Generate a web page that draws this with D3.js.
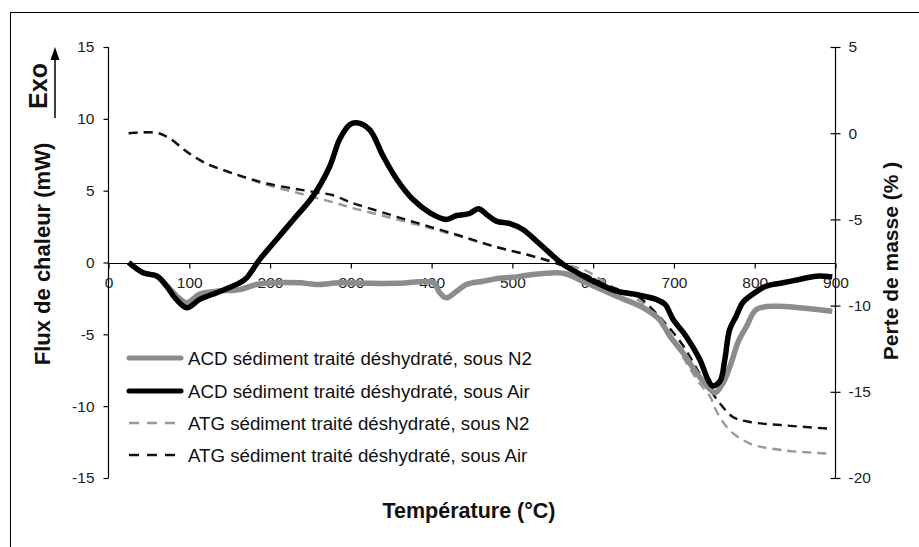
<!DOCTYPE html>
<html><head><meta charset="utf-8">
<script src="https://cdn.jsdelivr.net/npm/d3@7"></script>
<style>body{margin:0;background:#fff;} svg{display:block;font-family:"Liberation Sans",Arial,sans-serif;}</style>
</head><body>
<svg id="c" width="919" height="547"></svg>
<script>
// ---- data ----
const xTicks = [0,100,200,300,400,500,600,700,800,900];
const leftTicks = [15,10,5,0,-5,-10,-15];
const rightTicks = [5,0,-5,-10,-15,-20];

const acdAirT = [25,43,60,72,84,97,113,134,163,171,187,208,229,253,274,286,299,307,323,340,357,377,398,418,431,447,458,468,480,497,513,530,546,563,580,600,629,653,678,689,699,715,732,742,748,757,763,769,777,785,794,814,835,855,876,896];
const acdAirV = [0,-0.72,-0.95,-1.65,-2.57,-3.15,-2.57,-2.1,-1.4,-1.07,0.2,1.6,3.0,4.6,6.7,8.56,9.6,9.72,9.26,7.4,5.78,4.38,3.46,3.0,3.27,3.41,3.74,3.34,2.88,2.71,2.3,1.48,0.67,-0.14,-0.7,-1.3,-2.0,-2.23,-2.57,-2.92,-3.97,-5.13,-6.75,-8.14,-8.6,-8.26,-6.75,-4.66,-3.74,-2.8,-2.35,-1.65,-1.41,-1.18,-0.95,-1.0];

const acdN2T = [25,43,60,72,84,97,113,134,163,183,204,237,258,286,320,360,402,410,418,431,443,464,484,505,525,555,567,587,629,662,682,695,711,728,745,751,761,771,779,790,802,827,855,896];
const acdN2V = [0,-0.72,-0.95,-1.6,-2.3,-2.8,-2.2,-2.0,-1.88,-1.53,-1.41,-1.41,-1.53,-1.41,-1.45,-1.45,-1.41,-2.1,-2.46,-2.0,-1.53,-1.3,-1.1,-1.0,-0.84,-0.72,-0.8,-1.3,-2.35,-3.15,-3.97,-5.13,-6.28,-7.68,-8.84,-9.07,-8.37,-6.98,-5.59,-4.43,-3.27,-3.04,-3.15,-3.4];

const atgAirT = [25,60,76,97,121,146,171,196,229,253,278,299,324,357,398,439,480,521,555,590,620,653,686,711,730,745,757,773,794,835,890];
const atgAirW = [0,0.02,-0.31,-1.08,-1.76,-2.2,-2.59,-2.92,-3.21,-3.4,-3.6,-4.0,-4.37,-4.85,-5.43,-6.0,-6.6,-7.08,-7.56,-8.2,-8.9,-9.4,-10.85,-12.3,-13.8,-14.9,-15.68,-16.46,-16.75,-16.94,-17.13];

const atgN2T = [25,60,76,97,121,146,171,196,229,253,278,299,324,357,398,439,480,521,555,590,620,653,682,711,730,745,752,769,794,835,890];
const atgN2W = [0,0.02,-0.31,-1.08,-1.76,-2.2,-2.6,-3.0,-3.4,-3.7,-4.0,-4.3,-4.6,-5.0,-5.5,-6.05,-6.6,-7.08,-7.5,-7.95,-8.8,-9.6,-10.65,-12.97,-14.4,-15.3,-16.07,-17.23,-18.0,-18.39,-18.58];

const legendLabels = [
  "ACD sédiment traité déshydraté, sous N2",
  "ACD sédiment traité déshydraté, sous Air",
  "ATG sédiment traité déshydraté, sous N2",
  "ATG sédiment traité déshydraté, sous Air"
];

// ---- layout ----
const svg = d3.select("#c");
const L = 108.5, R = 835.5, T = 47, B = 478;
const x = d3.scaleLinear().domain([0,900]).range([L,R]);
const yL = d3.scaleLinear().domain([-15,15]).range([B,T]);
const yR = d3.scaleLinear().domain([-20,5]).range([B,T]);
const fmt = d => String(d);

// outer frame
svg.append("rect").attr("x",10.5).attr("y",12.5).attr("width",1000).attr("height",1000)
  .attr("fill","none").attr("stroke","#000").attr("stroke-width",1);

// left axis
const gL = svg.append("g").attr("transform",`translate(${L},0)`)
  .call(d3.axisLeft(yL).tickValues(leftTicks).tickSize(5).tickPadding(9).tickFormat(fmt));
// right axis
const gR = svg.append("g").attr("transform",`translate(${R},0)`)
  .call(d3.axisRight(yR).tickValues(rightTicks).tickSize(5).tickPadding(8).tickFormat(fmt));
gR.selectAll(".tick line").attr("x1",-5);
// x axis at y=0
const gX = svg.append("g").attr("transform",`translate(0,${Math.round(yL(0))+0.5})`)
  .call(d3.axisBottom(x).tickValues(xTicks).tickSize(5).tickPadding(8).tickFormat(fmt));

[gL,gR,gX].forEach(g=>{
  g.select(".domain").attr("stroke","#000").attr("stroke-width",1.2);
  g.selectAll(".tick line").attr("stroke","#000").attr("stroke-width",1.2);
  g.selectAll("text").attr("font-family","Liberation Sans, Arial, sans-serif").attr("font-size",15.5).attr("fill","#222");
});
gL.select(".domain").attr("d",`M0,${T}V${B}`);
gR.select(".domain").attr("d",`M0,${T}V${B}`);
gX.select(".domain").attr("d",`M${L},0H${R}`);

// lines
const lineL = (ts,vs)=>d3.line().x((d,i)=>x(ts[i])).y((d,i)=>yL(vs[i])).curve(d3.curveCatmullRom)(ts);
const lineR = (ts,vs)=>d3.line().x((d,i)=>x(ts[i])).y((d,i)=>yR(vs[i])).curve(d3.curveCatmullRom)(ts);

svg.append("path").attr("d",lineR(atgN2T,atgN2W)).attr("fill","none").attr("stroke","#999").attr("stroke-width",2.4).attr("stroke-dasharray","9,6");
svg.append("path").attr("d",lineR(atgAirT,atgAirW)).attr("fill","none").attr("stroke","#111").attr("stroke-width",2.4).attr("stroke-dasharray","9,6");
svg.append("path").attr("d",lineL(acdN2T,acdN2V)).attr("fill","none").attr("stroke","#8c8c8c").attr("stroke-width",5.5).attr("stroke-linejoin","round");
svg.append("path").attr("d",lineL(acdAirT,acdAirV)).attr("fill","none").attr("stroke","#000").attr("stroke-width",5.5).attr("stroke-linejoin","round");

// legend
const legStyles = [
  {c:"#8c8c8c",w:5,d:null},
  {c:"#000",w:5,d:null},
  {c:"#999",w:2.4,d:"10,8"},
  {c:"#111",w:2.4,d:"10,8"}
];
const legY = [358,391,423,455];
legendLabels.forEach((t,i)=>{
  const s = legStyles[i];
  const l = svg.append("line").attr("x1",129).attr("x2",181).attr("y1",legY[i]).attr("y2",legY[i])
    .attr("stroke",s.c).attr("stroke-width",s.w).attr("stroke-linecap", s.d?"butt":"round");
  if(s.d) l.attr("stroke-dasharray",s.d);
  svg.append("text").attr("x",188).attr("y",legY[i]).attr("dy","0.35em")
    .attr("font-size",18.7).attr("fill","#111").text(t);
});

// axis titles
svg.append("text").attr("transform","translate(50,254) rotate(-90)").attr("text-anchor","middle")
  .attr("font-weight","bold").attr("font-size",22).attr("fill","#111").text("Flux de chaleur (mW)");
svg.append("text").attr("transform","translate(47,86) rotate(-90)").attr("text-anchor","middle")
  .attr("font-weight","bold").attr("font-size",25).attr("fill","#111").text("Exo");
// Exo arrow
svg.append("line").attr("x1",55).attr("x2",55).attr("y1",118).attr("y2",58).attr("stroke","#000").attr("stroke-width",1.5);
svg.append("path").attr("d","M55,47 L59.5,60 L50.5,60 Z").attr("fill","#000");

svg.append("text").attr("transform","translate(898,261) rotate(-90)").attr("text-anchor","middle")
  .attr("font-weight","bold").attr("font-size",21).attr("fill","#111").text("Perte de masse (% )");
svg.append("text").attr("x",469).attr("y",518).attr("text-anchor","middle")
  .attr("font-weight","bold").attr("font-size",21.5).attr("fill","#111").text("Température (°C)");
</script>
</body></html>
